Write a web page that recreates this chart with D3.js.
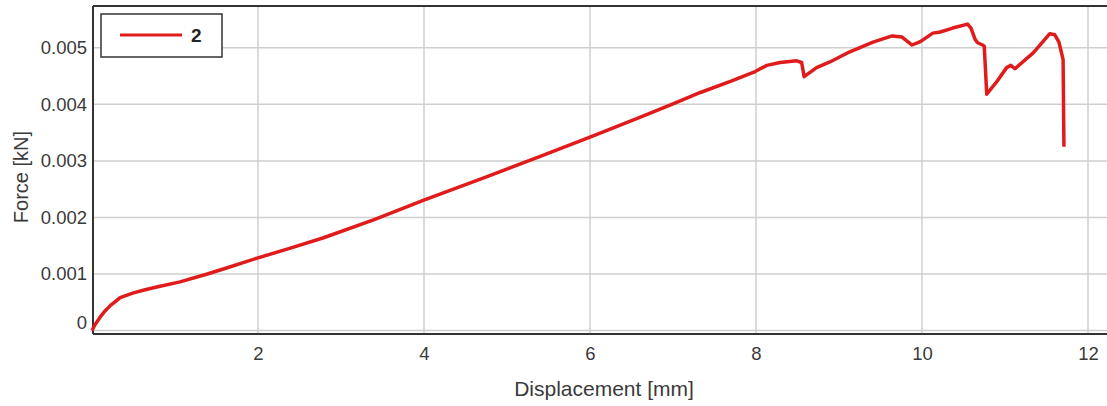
<!DOCTYPE html>
<html><head><meta charset="utf-8">
<script src="https://cdn.jsdelivr.net/npm/d3@7"></script>
<style>body{margin:0;background:#fff;}svg{display:block;font-family:"Liberation Sans",Arial,sans-serif;}</style>
</head><body>
<svg id="c" width="1107" height="406"></svg>
<script>
const displacement = [0, 0.04, 0.1, 0.16, 0.22, 0.34, 0.49, 0.64, 0.78, 1.06, 1.39, 1.63, 1.99, 2.4, 2.79, 3.4, 3.99, 4.76, 5.4, 6.0, 6.6, 7.0, 7.33, 7.7, 7.99, 8.13, 8.29, 8.49, 8.55, 8.58, 8.73, 8.89, 9.13, 9.41, 9.64, 9.76, 9.88, 9.98, 10.06, 10.13, 10.22, 10.37, 10.55, 10.59, 10.64, 10.67, 10.73, 10.75, 10.78, 10.9, 11.02, 11.07, 11.12, 11.34, 11.54, 11.6, 11.65, 11.7, 11.71];
const force = [0, 0.00011, 0.00024, 0.00035, 0.00044, 0.00058, 0.00066, 0.00072, 0.00077, 0.00086, 0.00100, 0.00111, 0.00128, 0.00146, 0.00164, 0.00196, 0.00230, 0.00272, 0.00308, 0.00342, 0.00377, 0.00401, 0.00421, 0.00441, 0.00458, 0.00469, 0.00474, 0.00477, 0.00474, 0.00449, 0.00465, 0.00475, 0.00493, 0.00510, 0.00521, 0.00519, 0.00505, 0.00511, 0.00519, 0.00526, 0.00528, 0.00535, 0.00542, 0.00535, 0.00515, 0.00509, 0.00505, 0.00503, 0.00418, 0.00440, 0.00465, 0.00469, 0.00463, 0.00491, 0.00525, 0.00523, 0.00510, 0.00479, 0.00325];
const xTicks = [2, 4, 6, 8, 10, 12];
const yTicks = [0, 0.001, 0.002, 0.003, 0.004, 0.005];
const seriesName = "2";
const xTitle = "Displacement [mm]";
const yTitle = "Force [kN]";

const svg = d3.select("#c");
const L = 93, T = 6, B = 334, R = 1107;
const x = d3.scaleLinear().domain([0, 12.2]).range([92, 92 + 12.2 * 83]);
const y = d3.scaleLinear().domain([-0.00008, 0.00574]).range([335, 6]);
const txt = "#3a3a3a";
const ff = "Liberation Sans, Arial, sans-serif";

// grid
const g = svg.append("g");
g.selectAll(".gx").data(xTicks).join("line")
  .attr("x1", d => x(d)).attr("x2", d => x(d)).attr("y1", T).attr("y2", B)
  .attr("stroke", "#cfcfcf").attr("stroke-width", 1.5);
g.selectAll(".gy").data(yTicks).join("line")
  .attr("x1", L).attr("x2", R).attr("y1", d => y(d)).attr("y2", d => y(d))
  .attr("stroke", "#cfcfcf").attr("stroke-width", 1.5);

// axes
const xAxis = d3.axisBottom(x).tickValues(xTicks).tickSize(0).tickPadding(13).tickFormat(d3.format("d"));
const xa = svg.append("g").attr("transform", `translate(0,${B})`).call(xAxis);
xa.select(".domain").remove();
xa.selectAll("text").attr("font-size", 18.5).attr("fill", txt).attr("font-family", ff);

const yAxis = d3.axisLeft(y).tickValues(yTicks).tickSize(0).tickPadding(6)
  .tickFormat(d => d === 0 ? "0" : d3.format(".3f")(d));
const ya = svg.append("g").attr("transform", `translate(${L},0)`).call(yAxis);
ya.select(".domain").remove();
ya.selectAll("text").attr("font-size", 18.5).attr("fill", txt).attr("font-family", ff)
  .attr("dy", d => d === 0 ? "-0.1em" : "0.32em");

// frame
svg.append("line").attr("x1", L).attr("x2", R).attr("y1", T).attr("y2", T).attr("stroke", "#333").attr("stroke-width", 2);
svg.append("line").attr("x1", L).attr("x2", R).attr("y1", B).attr("y2", B).attr("stroke", "#333").attr("stroke-width", 2);
svg.append("line").attr("x1", L).attr("x2", L).attr("y1", T).attr("y2", B).attr("stroke", "#333").attr("stroke-width", 2);

// line
const line = d3.line().x((d, i) => x(displacement[i])).y(d => y(d));
svg.append("path").datum(force).attr("d", line)
  .attr("fill", "none").attr("stroke", "#e01b1b").attr("stroke-width", 3.5).attr("stroke-linejoin", "round");

// legend
const lg = svg.append("g");
lg.append("rect").attr("x", 101).attr("y", 14).attr("width", 121).attr("height", 43)
  .attr("fill", "#fff").attr("stroke", "#333").attr("stroke-width", 1.5);
lg.append("line").attr("x1", 120).attr("x2", 182).attr("y1", 35).attr("y2", 35)
  .attr("stroke", "#e01b1b").attr("stroke-width", 3);
lg.append("text").attr("x", 191).attr("y", 42).attr("font-size", 19).attr("font-weight", "bold").attr("fill", "#222").text(seriesName);

// titles
svg.append("text").attr("x", 604).attr("y", 396).attr("text-anchor", "middle")
  .attr("font-size", 21).attr("fill", txt).attr("font-family", ff).text(xTitle);
svg.append("text").attr("transform", "translate(28,177) rotate(-90)").attr("text-anchor", "middle")
  .attr("font-size", 20).attr("fill", txt).attr("font-family", ff).text(yTitle);
</script>
</body></html>
